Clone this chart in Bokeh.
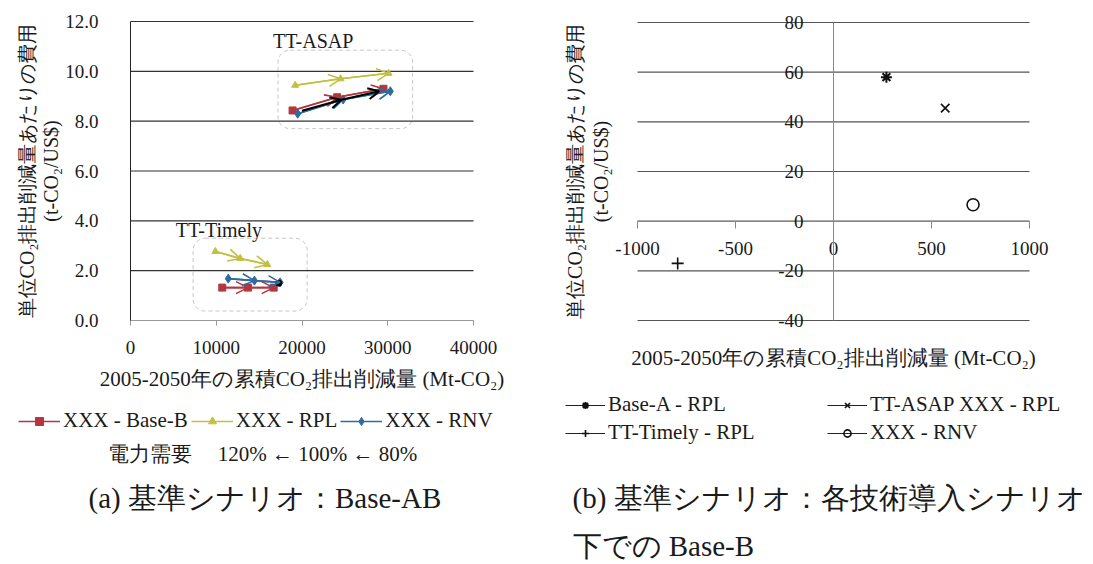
from bokeh.plotting import figure
from bokeh.layouts import row
from bokeh.models import (ColumnDataSource, Arrow, OpenHead, Legend, LegendItem, Label,
                          FixedTicker, NumeralTickFormatter, BoxAnnotation, LinearAxis)
from bokeh.core.properties import value
from bokeh.embed import file_html
from bokeh.resources import INLINE

SERIF = "serif"
TXT = "#1a1a1a"

# ---------------- data: (a) Base-AB ----------------
asap_base_x = [18900, 24100, 29500]
asap_base_y = [8.43, 8.96, 9.30]
asap_rpl_x = [19200, 24500, 30100]
asap_rpl_y = [9.44, 9.70, 9.92]
asap_rnv_x = [19500, 24800, 30300]
asap_rnv_y = [8.30, 8.87, 9.20]
asap_blk_x = [20000, 24600, 29000]
asap_blk_y = [8.42, 8.86, 9.20]

timely_base_x = [10700, 13700, 16700]
timely_base_y = [1.32, 1.32, 1.32]
timely_rpl_x = [9900, 12800, 15950]
timely_rpl_y = [2.77, 2.49, 2.25]
timely_rnv_x = [11400, 14450, 17450]
timely_rnv_y = [1.68, 1.60, 1.53]
timely_blk_x = [17300]
timely_blk_y = [1.50]

group_names = ["TT-ASAP", "TT-Timely"]
group_label_x = [21300, 10300]
group_label_y = [11.2, 3.62]
group_box_left = [17200, 7300]
group_box_right = [32900, 20600]
group_box_top = [10.85, 3.3]
group_box_bottom = [7.7, 0.38]

x_ticks_a = [0, 10000, 20000, 30000, 40000]
y_ticks_a = [0, 2, 4, 6, 8, 10, 12]

series_names_a = ["XXX - Base-B", "XXX - RPL", "XXX - RNV"]
series_colors_a = ["#b5363f", "#c2c040", "#2f6c9e"]
demand_note = "電力需要\u3000 120% ← 100% ← 80%"
caption_a = "(a) 基準シナリオ：Base-AB"

# ---------------- data: (b) ----------------
pt_names_b = ["Base-A - RPL", "TT-ASAP XXX - RPL", "TT-Timely - RPL", "XXX - RNV"]
pt_x_b = [270, 570, -795, 712]
pt_y_b = [58, 45.5, -17, 6.6]
pt_markers_b = ["asterisk", "x", "cross", "circle"]

x_ticks_b = [-1000, -500, 0, 500, 1000]
y_ticks_b = [-40, -20, 0, 20, 40, 60, 80]
caption_b = ["(b) 基準シナリオ：各技術導入シナリオ", "下での Base-B"]

X_LABEL = "2005-2050年の累積CO₂排出削減量 (Mt-CO₂)"
Y_LABEL = "単位CO₂排出削減量あたりの費用\n(t-CO₂/US$)"

H = 564


def full_ranges(x_lo, x_hi, y_lo, y_hi, w, left, right, top, bottom):
    """Ranges so that [x_lo,x_hi]x[y_lo,y_hi] occupies the given pixel box of a w x H frame."""
    sx = (x_hi - x_lo) / (right - left)
    sy = (y_hi - y_lo) / (bottom - top)
    return ((x_lo - left * sx, x_hi + (w - right) * sx),
            (y_lo - (H - bottom) * sy, y_hi + top * sy))


def style_axis(ax, size="19px"):
    ax.major_label_text_font = SERIF
    ax.major_label_text_font_size = size
    ax.major_label_text_color = TXT
    ax.minor_tick_line_color = None
    ax.axis_label_text_font = SERIF
    ax.axis_label_text_font_style = "normal"
    ax.axis_label_text_color = TXT


def arrows(fig, xs, ys, color, width=1.6, size=12):
    src = ColumnDataSource(dict(x0=xs[:-1], y0=ys[:-1], x1=xs[1:], y1=ys[1:]))
    fig.add_layout(Arrow(end=OpenHead(size=size, line_color=color, line_width=width),
                         x_start="x0", y_start="y0", x_end="x1", y_end="y1", source=src,
                         line_color=color, line_width=width))


def put_label(fig, x, y, txt, size):
    fig.add_layout(Label(x=x, y=y, x_units="screen", y_units="screen", text=txt,
                         text_font=SERIF, text_font_size=size, text_align="left",
                         text_baseline="middle", text_color=TXT))


def base_fig(w, xr, yr):
    f = figure(width=w, height=H, x_range=xr, y_range=yr, output_backend="svg",
               toolbar_location=None, min_border=0)
    f.outline_line_color = None
    f.xgrid.visible = False
    f.ygrid.visible = False
    return f


# ================= figure (a) =================
WA = 546
xr_a, yr_a = full_ranges(x_ticks_a[0], x_ticks_a[-1], y_ticks_a[0], y_ticks_a[-1],
                         WA, 130, 473, 21, 320)
pa = base_fig(WA, xr_a, yr_a)
xa, ya = pa.xaxis[0], pa.yaxis[0]
xa.ticker = FixedTicker(ticks=x_ticks_a)
ya.ticker = FixedTicker(ticks=y_ticks_a)
xa.formatter = NumeralTickFormatter(format="0")
ya.formatter = NumeralTickFormatter(format="0.0")
xa.fixed_location = y_ticks_a[0]
ya.fixed_location = x_ticks_a[0]
xa.bounds = (x_ticks_a[0], x_ticks_a[-1])
ya.bounds = (y_ticks_a[0], y_ticks_a[-1])
style_axis(xa)
style_axis(ya)
ya.axis_line_color = "#222222"
ya.major_tick_line_color = None
ya.major_label_standoff = 26
ya.axis_label = Y_LABEL
ya.axis_label_text_font_size = "20px"
ya.axis_label_standoff = 0
ya.axis_label_text_line_height = 1.1
xa.axis_line_color = "#999999"
xa.major_tick_line_color = "#999999"
xa.major_tick_out = 5
xa.major_tick_in = 0
xa.major_label_standoff = 15
xa.axis_label = X_LABEL
xa.axis_label_text_font_size = "21px"
xa.axis_label_standoff = 10

pa.segment(x0=x_ticks_a[0], y0=y_ticks_a[1:], x1=x_ticks_a[-1], y1=y_ticks_a[1:],
           line_color="#333333", line_width=1.2, level="underlay")

for i in range(len(group_names)):
    pa.add_layout(BoxAnnotation(left=group_box_left[i], right=group_box_right[i],
                                top=group_box_top[i], bottom=group_box_bottom[i],
                                fill_alpha=0, line_color="#444444", line_dash="4 3",
                                line_width=1, border_radius=12))
pa.text(x=group_label_x, y=group_label_y, text=group_names, text_align="center",
        text_baseline="middle", text_font=value(SERIF), text_font_size="20px", text_color=TXT)

series_a = [
    (asap_base_x, asap_base_y, timely_base_x, timely_base_y, "square", 7),
    (asap_rpl_x, asap_rpl_y, timely_rpl_x, timely_rpl_y, "triangle", 7),
    (asap_rnv_x, asap_rnv_y, timely_rnv_x, timely_rnv_y, "diamond", 9),
]
items_a = []
for k, (ax_, ay_, tx_, ty_, mk, ms) in enumerate(series_a):
    c = series_colors_a[k]
    rends = []
    for xs, ys in ((ax_, ay_), (tx_, ty_)):
        arrows(pa, xs, ys, c)
        rl = pa.line(xs, ys, line_color=c, line_width=1.6)
        rs = pa.scatter(xs, ys, marker=mk, size=ms, fill_color=c, line_color=c)
        rends += [rl, rs]
    items_a.append(LegendItem(label=series_names_a[k], renderers=rends[:2]))

arrows(pa, asap_blk_x, asap_blk_y, "black", width=2.0, size=11)
pa.scatter(timely_blk_x, timely_blk_y, marker="circle", size=6, color="black")

leg_a = Legend(items=items_a, orientation="horizontal", location=(18, 131),
               glyph_width=42, glyph_height=20, label_standoff=3, spacing=3,
               padding=0, margin=0, border_line_alpha=0, background_fill_alpha=0,
               label_text_font=SERIF, label_text_font_size="21px", label_text_color=TXT)
pa.add_layout(leg_a)
put_label(pa, 107, 111, demand_note, "21px")
put_label(pa, 88, 67, caption_a, "29px")

# ================= figure (b) =================
WB = 547
xr_b, yr_b = full_ranges(x_ticks_b[0], x_ticks_b[-1], y_ticks_b[0], y_ticks_b[-1],
                         WB, 91, 483, 22, 320)
pb = base_fig(WB, xr_b, yr_b)
xb, yb = pb.xaxis[0], pb.yaxis[0]
xb.ticker = FixedTicker(ticks=x_ticks_b)
yb.ticker = FixedTicker(ticks=y_ticks_b)
xb.major_label_overrides = {t: str(t) for t in x_ticks_b}
yb.major_label_overrides = {t: str(t) for t in y_ticks_b}
xb.fixed_location = 0
yb.fixed_location = 0
xb.bounds = (x_ticks_b[0], x_ticks_b[-1])
yb.bounds = (y_ticks_b[0], y_ticks_b[-1])
for ax in (xb, yb):
    style_axis(ax)
    ax.axis_line_color = "#888888"
yb.major_tick_line_color = None
yb.major_label_standoff = 24
xb.major_tick_line_color = "#888888"
xb.major_tick_out = 7
xb.major_tick_in = 0
xb.major_label_standoff = 14

pb.segment(x0=x_ticks_b[0], y0=y_ticks_b, x1=x_ticks_b[-1], y1=y_ticks_b,
           line_color="#555555", line_width=1.2, level="underlay")

lab_y = LinearAxis(ticker=FixedTicker(ticks=[]), axis_line_color=None,
                   major_tick_line_color=None, axis_label=Y_LABEL,
                   fixed_location=x_ticks_b[0], bounds=(y_ticks_b[0], y_ticks_b[-1]))
style_axis(lab_y)
lab_y.axis_label_text_font_size = "20px"
lab_y.axis_label_standoff = 26
lab_y.axis_label_text_line_height = 1.15
pb.add_layout(lab_y, "left")
lab_x = LinearAxis(ticker=FixedTicker(ticks=[]), axis_line_color=None,
                   major_tick_line_color=None, axis_label=X_LABEL,
                   fixed_location=y_ticks_b[0], bounds=(x_ticks_b[0], x_ticks_b[-1]))
style_axis(lab_x)
lab_x.axis_label_text_font_size = "21px"
lab_x.axis_label_standoff = 25
pb.add_layout(lab_x, "below")

items_b = []
for k in range(len(pt_names_b)):
    mk = pt_markers_b[k]
    rl = pb.line(pt_x_b[k:k + 1], pt_y_b[k:k + 1], line_color="#222222", line_width=1.2)
    rs = pb.scatter(pt_x_b[k:k + 1], pt_y_b[k:k + 1], marker=mk,
                    size=12 if mk != "asterisk" else 11,
                    line_color="#111111", line_width=2 if mk == "asterisk" else 1.6,
                    fill_color=None)
    items_b.append(LegendItem(label=pt_names_b[k], renderers=[rl, rs]))

leg_b = Legend(items=[items_b[0], items_b[2], items_b[1], items_b[3]],
               orientation="vertical", nrows=2, location=(19, 119),
               glyph_width=40, glyph_height=18, label_standoff=3, spacing=3,
               label_width=216, padding=0, margin=0, border_line_alpha=0, background_fill_alpha=0,
               label_text_font=SERIF, label_text_font_size="21px", label_text_color=TXT)
pb.add_layout(leg_b)
put_label(pb, 26, 67, caption_b[0], "29px")
put_label(pb, 26, 19, caption_b[1], "29px")

layout = row(pa, pb)
open("out.html", "w").write(file_html(layout, INLINE))
